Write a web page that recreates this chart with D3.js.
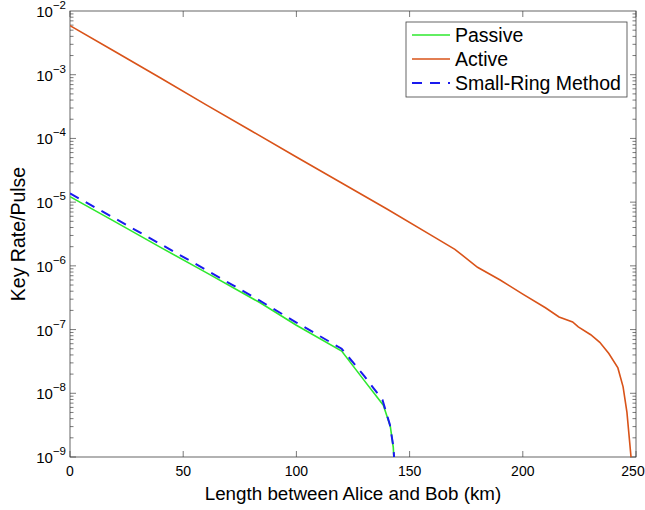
<!DOCTYPE html>
<html>
<head>
<meta charset="utf-8">
<script src="https://cdn.jsdelivr.net/npm/d3@7"></script>
<style>
  body { margin: 0; background: #fff; }
  text { font-family: "Liberation Sans", Arial, Helvetica, sans-serif; fill: #000; }
</style>
</head>
<body>
<svg id="chart" width="645" height="510"></svg>
<script>
// distances (km) and key rate per pulse
const activeKm   = [0, 20, 40, 60, 80, 100, 120, 140, 160, 170, 180, 190, 200, 210, 216, 222, 224.5, 230, 234, 238, 242, 244.3, 246, 247.8, 248.1];
const activeRate = [5.89e-3, 2.29e-3, 8.9e-4, 3.39e-4, 1.32e-4, 5.1e-5, 2.0e-5, 7.8e-6, 2.95e-6, 1.82e-6, 9.5e-7, 6.0e-7, 3.6e-7, 2.2e-7, 1.58e-7, 1.32e-7, 1.1e-7, 8.3e-8, 6.3e-8, 4.2e-8, 2.5e-8, 1.26e-8, 5.0e-9, 1.0e-9, 6.3e-10];

const passiveKm   = [0, 20, 40, 60, 84, 100, 120, 130, 138.4, 141.5, 142.8, 143.2];
const passiveRate = [1.22e-5, 4.9e-6, 1.95e-6, 7.9e-7, 2.63e-7, 1.17e-7, 4.6e-8, 1.58e-8, 6.5e-9, 3.0e-9, 1.4e-9, 7.9e-10];

const ringKm   = [0, 20, 40, 60, 84, 100, 120, 130, 138, 141.3, 142.9, 143.3];
const ringRate = [1.37e-5, 5.5e-6, 2.19e-6, 8.7e-7, 2.82e-7, 1.29e-7, 5.0e-8, 1.86e-8, 7.9e-9, 3.2e-9, 1.4e-9, 7.9e-10];

const xTicks = [0, 50, 100, 150, 200, 250];
const yExps  = [-2, -3, -4, -5, -6, -7, -8, -9];
const legendNames = ["Passive", "Active", "Small-Ring Method"];

const svg = d3.select("#chart");
const mLeft = 70, mRight = 636, mTop = 11, mBottom = 457;

const x = d3.scaleLinear().domain([0, 250]).range([mLeft, mRight]);
const y = d3.scaleLog().domain([1e-9, 1e-2]).range([mBottom, mTop]);

const axisColor = "#404040";

svg.append("defs").append("clipPath").attr("id", "clip")
  .append("rect").attr("x", mLeft).attr("y", mTop)
  .attr("width", mRight - mLeft).attr("height", mBottom - mTop);

// box
svg.append("rect")
  .attr("x", mLeft).attr("y", mTop)
  .attr("width", mRight - mLeft).attr("height", mBottom - mTop)
  .attr("fill", "none").attr("stroke", axisColor).attr("stroke-width", 0.8);

// ticks (inward, mirrored on top/right)
let ticks = svg.append("g").attr("stroke", axisColor).attr("stroke-width", 0.7);
xTicks.forEach(t => {
  ticks.append("line").attr("x1", x(t)).attr("x2", x(t)).attr("y1", mBottom).attr("y2", mBottom - 6);
  ticks.append("line").attr("x1", x(t)).attr("x2", x(t)).attr("y1", mTop).attr("y2", mTop + 6);
});
for (let e = -9; e < -2; e++) {
  for (let m = 1; m < 10; m++) {
    let v = m * Math.pow(10, e);
    let len = m == 1 ? 6 : 3.5;
    ticks.append("line").attr("x1", mLeft).attr("x2", mLeft + len).attr("y1", y(v)).attr("y2", y(v));
    ticks.append("line").attr("x1", mRight).attr("x2", mRight - len).attr("y1", y(v)).attr("y2", y(v));
  }
}

// x tick labels
svg.append("g").selectAll("text").data(xTicks).enter().append("text")
  .attr("x", d => d == 250 ? x(d) - 3 : x(d)).attr("y", mBottom + 19)
  .attr("text-anchor", "middle").attr("font-size", 14)
  .text(d => d);

// y tick labels 10^n
let yl = svg.append("g").selectAll("text").data(yExps).enter().append("text")
  .attr("x", mLeft - 4).attr("y", d => y(Math.pow(10, d)) + 6)
  .attr("text-anchor", "end").attr("font-size", 15);
yl.append("tspan").text("10");
yl.append("tspan").attr("dy", -8).attr("font-size", 11.5).text(d => "\u2212" + (-d));

// axis labels
svg.append("text")
  .attr("x", (mLeft + mRight) / 2).attr("y", 500)
  .attr("text-anchor", "middle").attr("font-size", 18.8)
  .text("Length between Alice and Bob (km)");

svg.append("text")
  .attr("transform", `translate(25,${(mTop + mBottom) / 2}) rotate(-90)`)
  .attr("text-anchor", "middle").attr("font-size", 19.5)
  .text("Key Rate/Pulse");

// curves
const line = d3.line().x(d => x(d[0])).y(d => y(d[1]));
const plot = svg.append("g").attr("clip-path", "url(#clip)");

plot.append("path")
  .attr("d", line(d3.zip(passiveKm, passiveRate)))
  .attr("fill", "none").attr("stroke", "#2ee82e").attr("stroke-width", 1.6);

plot.append("path")
  .attr("d", line(d3.zip(activeKm, activeRate)))
  .attr("fill", "none").attr("stroke", "#D95319").attr("stroke-width", 1.6);

plot.append("path")
  .attr("d", line(d3.zip(ringKm, ringRate)))
  .attr("fill", "none").attr("stroke", "#1a1aee").attr("stroke-width", 2)
  .attr("stroke-dasharray", "10,8");

// legend
const lg = svg.append("g");
lg.append("rect").attr("x", 406).attr("y", 22).attr("width", 221).attr("height", 75)
  .attr("fill", "#fff").attr("stroke", axisColor).attr("stroke-width", 0.8);
const legColors = ["#2ee82e", "#D95319", "#1a1aee"];
legendNames.forEach((name, i) => {
  let cy = 35 + i * 24;
  lg.append("line").attr("x1", 412).attr("x2", 450).attr("y1", cy).attr("y2", cy)
    .attr("stroke", legColors[i]).attr("stroke-width", i == 2 ? 2 : 1.6)
    .attr("stroke-dasharray", i == 2 ? "10,8" : null);
  lg.append("text").attr("x", 455).attr("y", cy + 7).attr("font-size", 19.5).text(name);
});
</script>
</body>
</html>
